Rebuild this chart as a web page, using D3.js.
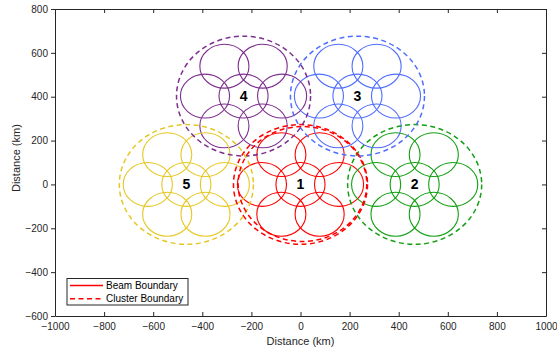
<!DOCTYPE html>
<html>
<head>
<meta charset="utf-8">
<script src="https://cdn.jsdelivr.net/npm/d3@7"></script>
<style>
  body { margin: 0; background: #fff; }
  svg { font-family: "Liberation Sans", Arial, sans-serif; }
</style>
</head>
<body>
<div id="chart"></div>
<script>
// cluster centres (km), labels and colours
const clusterIds = ['1', '2', '3', '4', '5'];
const clusterX = [0, 465, 232, -232, -465];
const clusterY = [0, 0, 403, 403, 0];
const clusterColors = ['#ff0000', '#12a012', '#4f6dff', '#7e2f8e', '#e6c723'];

// beam offsets from cluster centre (km), 7 beams per cluster
const beamDX = [0, 157, 78, -78, -157, -78, 78];
const beamDY = [0, 0, 136, 136, 0, -136, -136];
const beamRadius = 100;
const clusterRadius = 273;

// extra red cluster boundary seen in the picture
const extraBoundary = [{ cx: 8, cy: 2, r: 262, color: '#ff0000' }];

const xTicks = [-1000, -800, -600, -400, -200, 0, 200, 400, 600, 800, 1000];
const yTicks = [-600, -400, -200, 0, 200, 400, 600, 800];
const legendItems = ['Beam Boundary', 'Cluster Boundary'];

const W = 557, H = 354;
const margin = { top: 9, right: 11, bottom: 38, left: 55 };

const svg = d3.select('#chart').append('svg')
  .attr('width', W)
  .attr('height', H);

const x = d3.scaleLinear().domain([-1000, 1000]).range([margin.left, W - margin.right]);
const y = d3.scaleLinear().domain([-600, 800]).range([H - margin.bottom, margin.top]);

const rx = r => x(r) - x(0);
const ry = r => y(0) - y(r);

// beams
const beams = [];
clusterIds.forEach((id, i) => {
  beamDX.forEach((dx, j) => {
    beams.push({ cx: clusterX[i] + dx, cy: clusterY[i] + beamDY[j], color: clusterColors[i] });
  });
});

const plot = svg.append('g');

plot.selectAll('.beam')
  .data(beams)
  .enter().append('ellipse')
  .attr('class', 'beam')
  .attr('cx', d => x(d.cx))
  .attr('cy', d => y(d.cy))
  .attr('rx', rx(beamRadius))
  .attr('ry', ry(beamRadius))
  .attr('fill', 'none')
  .attr('stroke', d => d.color)
  .attr('stroke-width', 1.1);

const boundaries = clusterIds.map((id, i) => ({ cx: clusterX[i], cy: clusterY[i], r: clusterRadius, color: clusterColors[i] }))
  .concat(extraBoundary);

plot.selectAll('.cluster')
  .data(boundaries)
  .enter().append('ellipse')
  .attr('class', 'cluster')
  .attr('cx', d => x(d.cx))
  .attr('cy', d => y(d.cy))
  .attr('rx', d => rx(d.r))
  .attr('ry', d => ry(d.r))
  .attr('fill', 'none')
  .attr('stroke', d => d.color)
  .attr('stroke-width', 1.5)
  .attr('stroke-dasharray', '5,3.5');

plot.selectAll('.clabel')
  .data(clusterIds)
  .enter().append('text')
  .attr('x', (d, i) => x(clusterX[i]))
  .attr('y', (d, i) => y(clusterY[i]))
  .attr('dy', '0.36em')
  .attr('text-anchor', 'middle')
  .style('font-size', '14px')
  .style('font-weight', 'bold')
  .text(d => d);

// axes
const axisColor = '#262626';
const tickLen = 4;
const fmt = d3.format('d');

const styleAxis = g => {
  g.select('.domain').attr('stroke', axisColor);
  g.selectAll('.tick line').attr('stroke', axisColor);
  g.selectAll('.tick text').attr('fill', '#262626').style('font-size', '10px');
};

svg.append('g')
  .attr('transform', `translate(0,${y(-600)})`)
  .call(d3.axisBottom(x).tickValues(xTicks).tickFormat(fmt).tickSize(-tickLen).tickSizeOuter(0).tickPadding(7))
  .call(styleAxis);

svg.append('g')
  .attr('transform', `translate(0,${y(800)})`)
  .call(d3.axisTop(x).tickValues(xTicks).tickSize(-tickLen).tickSizeOuter(0).tickFormat(''))
  .call(styleAxis);

svg.append('g')
  .attr('transform', `translate(${x(-1000)},0)`)
  .call(d3.axisLeft(y).tickValues(yTicks).tickFormat(fmt).tickSize(tickLen).tickSizeOuter(0).tickPadding(3))
  .call(styleAxis);

svg.append('g')
  .attr('transform', `translate(${x(1000)},0)`)
  .call(d3.axisRight(y).tickValues(yTicks).tickSize(-tickLen).tickSizeOuter(0).tickFormat(''))
  .call(styleAxis);

svg.append('text')
  .attr('x', x(0))
  .attr('y', 345)
  .attr('text-anchor', 'middle')
  .attr('fill', '#262626')
  .style('font-size', '11px')
  .text('Distance (km)');

svg.append('text')
  .attr('transform', `translate(20,${y(120)}) rotate(-90)`)
  .attr('text-anchor', 'middle')
  .attr('fill', '#262626')
  .style('font-size', '11px')
  .text('Distance (km)');

// legend
const legend = svg.append('g').attr('transform', 'translate(67,278.5)');
legend.append('rect')
  .attr('width', 121)
  .attr('height', 26.5)
  .attr('fill', '#fff')
  .attr('stroke', axisColor)
  .attr('stroke-width', 1);

legendItems.forEach((name, i) => {
  const ly = 7 + i * 13.3;
  legend.append('line')
    .attr('x1', 3).attr('x2', 36)
    .attr('y1', ly).attr('y2', ly)
    .attr('stroke', '#ff0000')
    .attr('stroke-width', 1.5)
    .attr('stroke-dasharray', i === 1 ? '5,3.5' : null);
  legend.append('text')
    .attr('x', 39)
    .attr('y', ly)
    .attr('dy', '0.35em')
    .attr('fill', '#000')
    .style('font-size', '10px')
    .text(name);
});
</script>
</body>
</html>
